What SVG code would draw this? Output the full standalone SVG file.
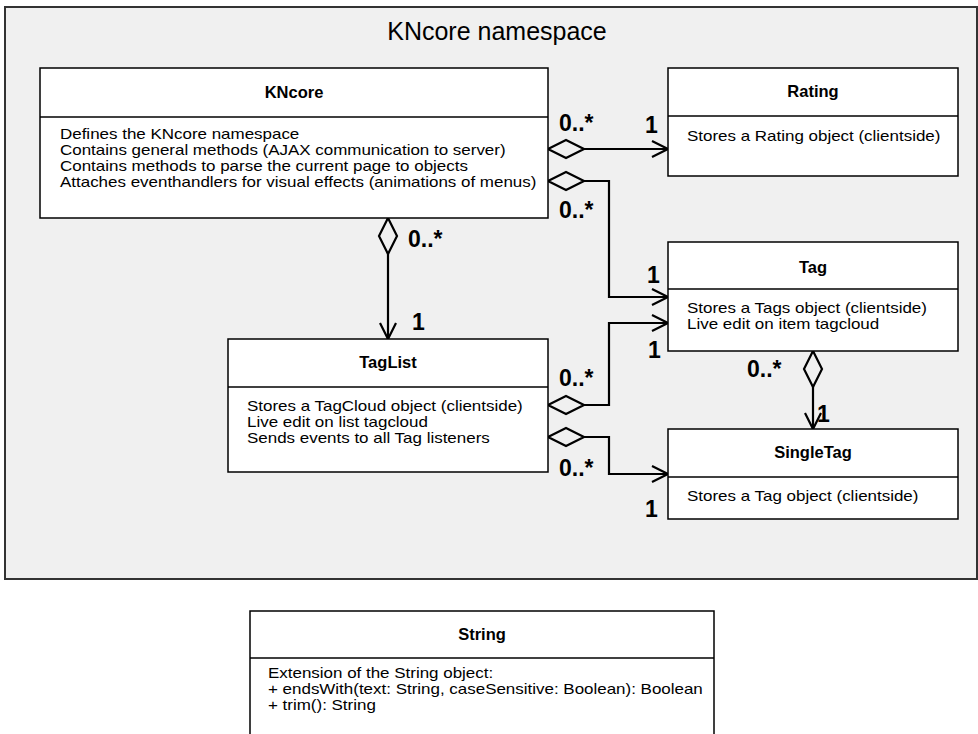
<svg xmlns="http://www.w3.org/2000/svg" width="978" height="734" viewBox="0 0 978 734">
  <style>
    .pkg { fill: #f0f0f0; stroke: #333; stroke-width: 2; }
    .box { fill: #fff; stroke: #000; stroke-width: 1.5; }
    .sep { stroke: #000; stroke-width: 1.5; }
    .title { font-family: "Liberation Sans", Arial, sans-serif; font-size: 25px; fill: #000; }
    .hd { font-family: "Liberation Sans", Arial, sans-serif; font-size: 16.5px; font-weight: bold; text-anchor: middle; fill: #000; }
    .tx { font-family: "Liberation Sans", Arial, sans-serif; font-size: 14.5px; fill: #000; }
    .mul { font-family: "Liberation Sans", Arial, sans-serif; font-size: 23px; font-weight: bold; fill: #000; }
    .link { fill: none; stroke: #000; stroke-width: 2.2; marker-start: url(#diamond); marker-end: url(#arrow); }
  </style>
  <defs>
    <marker id="diamond" markerUnits="userSpaceOnUse" markerWidth="40" markerHeight="24" viewBox="-2 -12 40 24" refX="0" refY="0" orient="auto">
      <path d="M0,0 L18,-9 L36,0 L18,9 Z" fill="#f0f0f0" stroke="#000" stroke-width="2.2" stroke-linejoin="miter"/>
    </marker>
    <marker id="arrow" markerUnits="userSpaceOnUse" markerWidth="24" markerHeight="24" viewBox="-20 -12 24 24" refX="0" refY="0" orient="auto">
      <path d="M-16,-8 L0,0 L-16,8" fill="none" stroke="#000" stroke-width="2.2"/>
    </marker>
  </defs>

  <!-- namespace frame -->
  <g id="namespace">
    <rect class="pkg" x="5" y="7" width="972" height="572"/>
    <text class="title" x="497" y="40" text-anchor="middle">KNcore namespace</text>
  </g>

  <g id="connectors">
    <path class="link" d="M548,149 H668"/>
    <path class="link" d="M548,181 H609 V297 H668"/>
    <path class="link" d="M388,218 V339"/>
    <path class="link" d="M548,405 H609 V323 H668"/>
    <path class="link" d="M548,437 H609 V474 H668"/>
    <path class="link" d="M813,351 V429"/>
  </g>

  <!-- body texts are set slightly wide: 14.5px glyphs stretched 1.17x horizontally -->
  <g id="KNcore">
    <rect class="box" x="40" y="68" width="508" height="150"/>
    <line class="sep" x1="40" y1="117" x2="548" y2="117"/>
    <text class="hd" x="294" y="98">KNcore</text>
    <g class="tx" transform="translate(60,0) scale(1.17,1)">
      <text x="0" y="139">Defines the KNcore namespace</text>
      <text x="0" y="155">Contains general methods (AJAX communication to server)</text>
      <text x="0" y="171">Contains methods to parse the current page to objects</text>
      <text x="0" y="187">Attaches eventhandlers for visual effects (animations of menus)</text>
    </g>
  </g>

  <g id="Rating">
    <rect class="box" x="668" y="68" width="290" height="108"/>
    <line class="sep" x1="668" y1="116" x2="958" y2="116"/>
    <text class="hd" x="813" y="97">Rating</text>
    <g class="tx" transform="translate(687,0) scale(1.17,1)">
      <text x="0" y="141">Stores a Rating object (clientside)</text>
    </g>
  </g>

  <g id="Tag">
    <rect class="box" x="668" y="242" width="290" height="109"/>
    <line class="sep" x1="668" y1="289" x2="958" y2="289"/>
    <text class="hd" x="813" y="273">Tag</text>
    <g class="tx" transform="translate(687,0) scale(1.17,1)">
      <text x="0" y="313">Stores a Tags object (clientside)</text>
      <text x="0" y="329">Live edit on item tagcloud</text>
    </g>
  </g>

  <g id="TagList">
    <rect class="box" x="228" y="339" width="320" height="133"/>
    <line class="sep" x1="228" y1="387" x2="548" y2="387"/>
    <text class="hd" x="388" y="368">TagList</text>
    <g class="tx" transform="translate(247,0) scale(1.17,1)">
      <text x="0" y="411">Stores a TagCloud object (clientside)</text>
      <text x="0" y="427">Live edit on list tagcloud</text>
      <text x="0" y="443">Sends events to all Tag listeners</text>
    </g>
  </g>

  <g id="SingleTag">
    <rect class="box" x="668" y="429" width="290" height="90"/>
    <line class="sep" x1="668" y1="477" x2="958" y2="477"/>
    <text class="hd" x="813" y="458">SingleTag</text>
    <g class="tx" transform="translate(687,0) scale(1.17,1)">
      <text x="0" y="501">Stores a Tag object (clientside)</text>
    </g>
  </g>

  <g id="String">
    <rect class="box" x="250" y="611" width="464" height="140"/>
    <line class="sep" x1="250" y1="658" x2="714" y2="658"/>
    <text class="hd" x="482" y="640">String</text>
    <g class="tx" transform="translate(268,0) scale(1.17,1)">
      <text x="0" y="678">Extension of the String object:</text>
      <text x="0" y="694">+ endsWith(text: String, caseSensitive: Boolean): Boolean</text>
      <text x="0" y="710">+ trim(): String</text>
    </g>
  </g>

  <!-- multiplicities -->
  <g id="multiplicities">
    <text class="mul" x="559" y="131">0..*</text>
    <text class="mul" x="645" y="133">1</text>
    <text class="mul" x="559" y="218">0..*</text>
    <text class="mul" x="647" y="283">1</text>
    <text class="mul" x="408" y="247">0..*</text>
    <text class="mul" x="412" y="330">1</text>
    <text class="mul" x="648" y="358">1</text>
    <text class="mul" x="559" y="386">0..*</text>
    <text class="mul" x="559" y="476">0..*</text>
    <text class="mul" x="645" y="517">1</text>
    <text class="mul" x="747" y="377">0..*</text>
    <text class="mul" x="817" y="422">1</text>
  </g>
</svg>
